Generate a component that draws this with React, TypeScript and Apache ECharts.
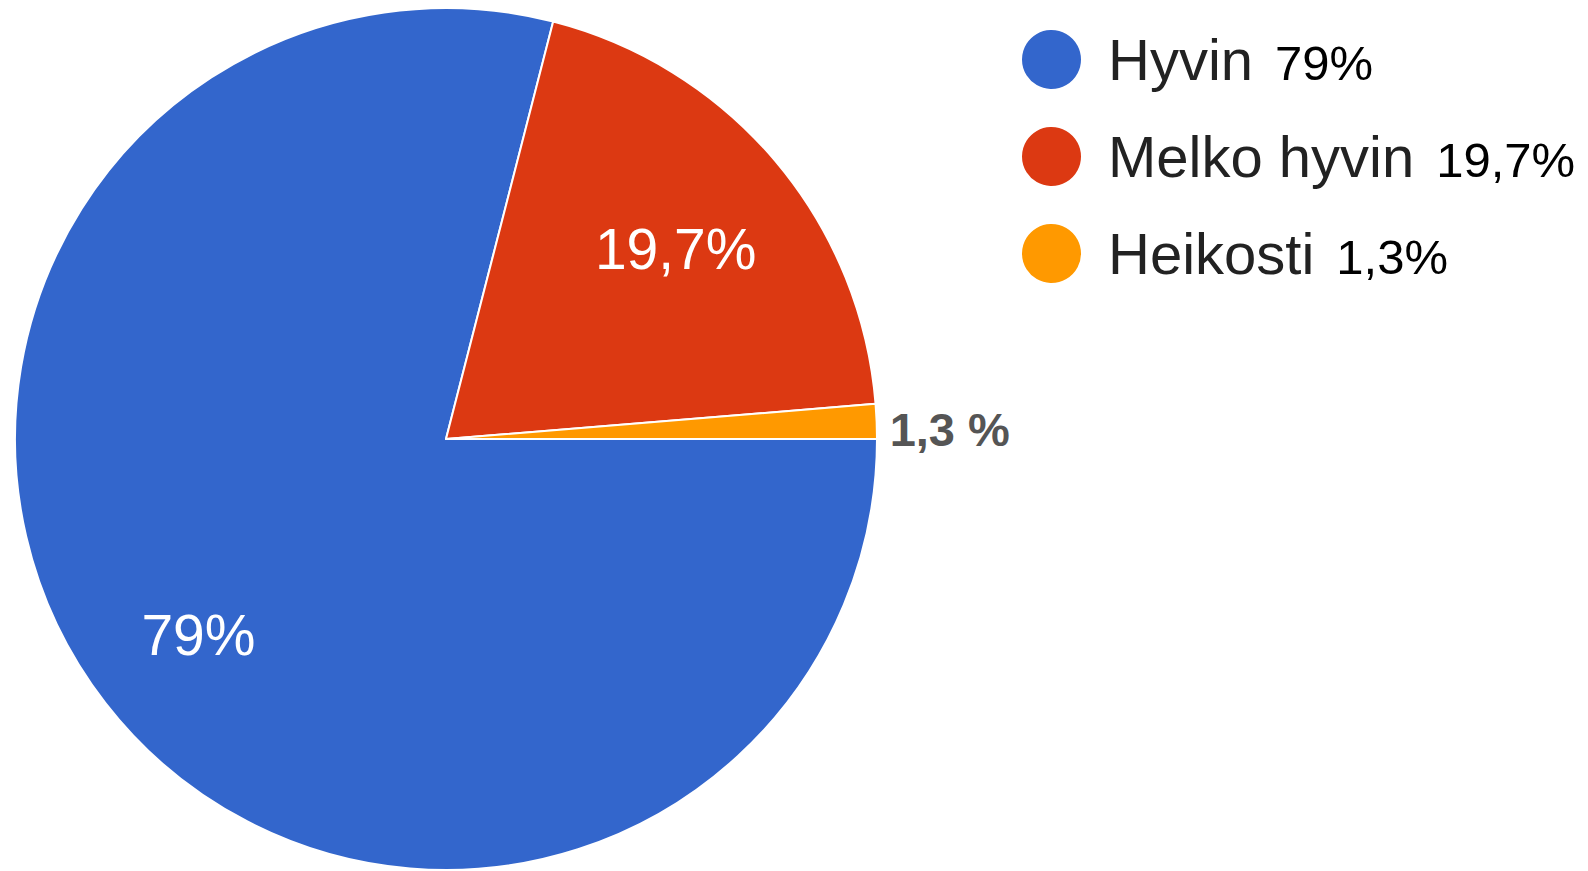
import React, { useEffect, useRef } from "react";
import * as echarts from "echarts";

const categories = ["Hyvin", "Melko hyvin", "Heikosti"];
const values = [79, 19.7, 1.3];
const colors = ["#3366CC", "#DC3912", "#FF9900"];

const fmt = (v: number) => String(v).replace(".", ",");
const FONT = "'Liberation Sans', Arial, Helvetica, sans-serif";

export default function App() {
  const ref = useRef<HTMLDivElement>(null);
  useEffect(() => {
    document.body.style.margin = "0";
    const chart = echarts.init(ref.current!, undefined, { renderer: "svg" });
    const cx = 446;
    const cy = 439;
    const r = 431;
    chart.setOption({
      animation: false,
      backgroundColor: "#ffffff",
      legend: {
        orient: "vertical",
        left: 1020,
        top: 28,
        padding: 0,
        icon: "circle",
        itemWidth: 61,
        itemHeight: 61,
        itemGap: 34,
        selectedMode: false,
        data: categories,
        formatter: (name: string) => {
          const i = categories.indexOf(name);
          return `{n|${name}}{p|${fmt(values[i])}%}`;
        },
        textStyle: {
          rich: {
            n: { fontSize: 58, color: "#222", fontFamily: FONT, padding: [0, 22, 0, 21], lineHeight: 60 },
            p: { fontSize: 49, color: "#000", fontFamily: FONT, lineHeight: 60, padding: [6, 0, 0, 0] },
          },
        },
      },
      series: [
        {
          type: "pie",
          center: [cx, cy],
          radius: r,
          startAngle: 0,
          clockwise: true,
          avoidLabelOverlap: false,
          silent: true,
          itemStyle: { borderColor: "#ffffff", borderWidth: 2 },
          label: { show: false },
          labelLine: { show: false },
          labelLayout: { dx: -3, dy: 8 },
          data: categories.map((name, i) => ({
            name,
            value: values[i],
            itemStyle: { color: colors[i] },
            label:
              i === 2
                ? {
                    show: true,
                    position: "outside",
                    formatter: () => `${fmt(values[i])} %`,
                    color: "#555555",
                    fontSize: 47,
                    fontWeight: "bold",
                    fontFamily: FONT,
                  }
                : { show: false },
            labelLine: { show: false, length: 6, length2: 5 },
          })),
        },
        {
          type: "pie",
          center: [cx, cy],
          radius: [Math.round(r * 0.41), r],
          startAngle: 0,
          clockwise: true,
          avoidLabelOverlap: false,
          silent: true,
          itemStyle: { color: "rgba(0,0,0,0)" },
          labelLine: { show: false },
          labelLayout: { dx: -5, dy: 8 },
          data: categories.map((name, i) => ({
            name,
            value: values[i],
            itemStyle: { color: "rgba(0,0,0,0)" },
            label:
              i < 2
                ? {
                    show: true,
                    position: "inside",
                    formatter: () => `${fmt(values[i])}%`,
                    color: "#ffffff",
                    fontSize: 57,
                    fontFamily: FONT,
                  }
                : { show: false },
          })),
        },
      ],
    });
    return () => chart.dispose();
  }, []);
  return (
    <div
      ref={ref}
      style={{ position: "fixed", left: 0, top: 0, width: 1588, height: 871 }}
    />
  );
}
